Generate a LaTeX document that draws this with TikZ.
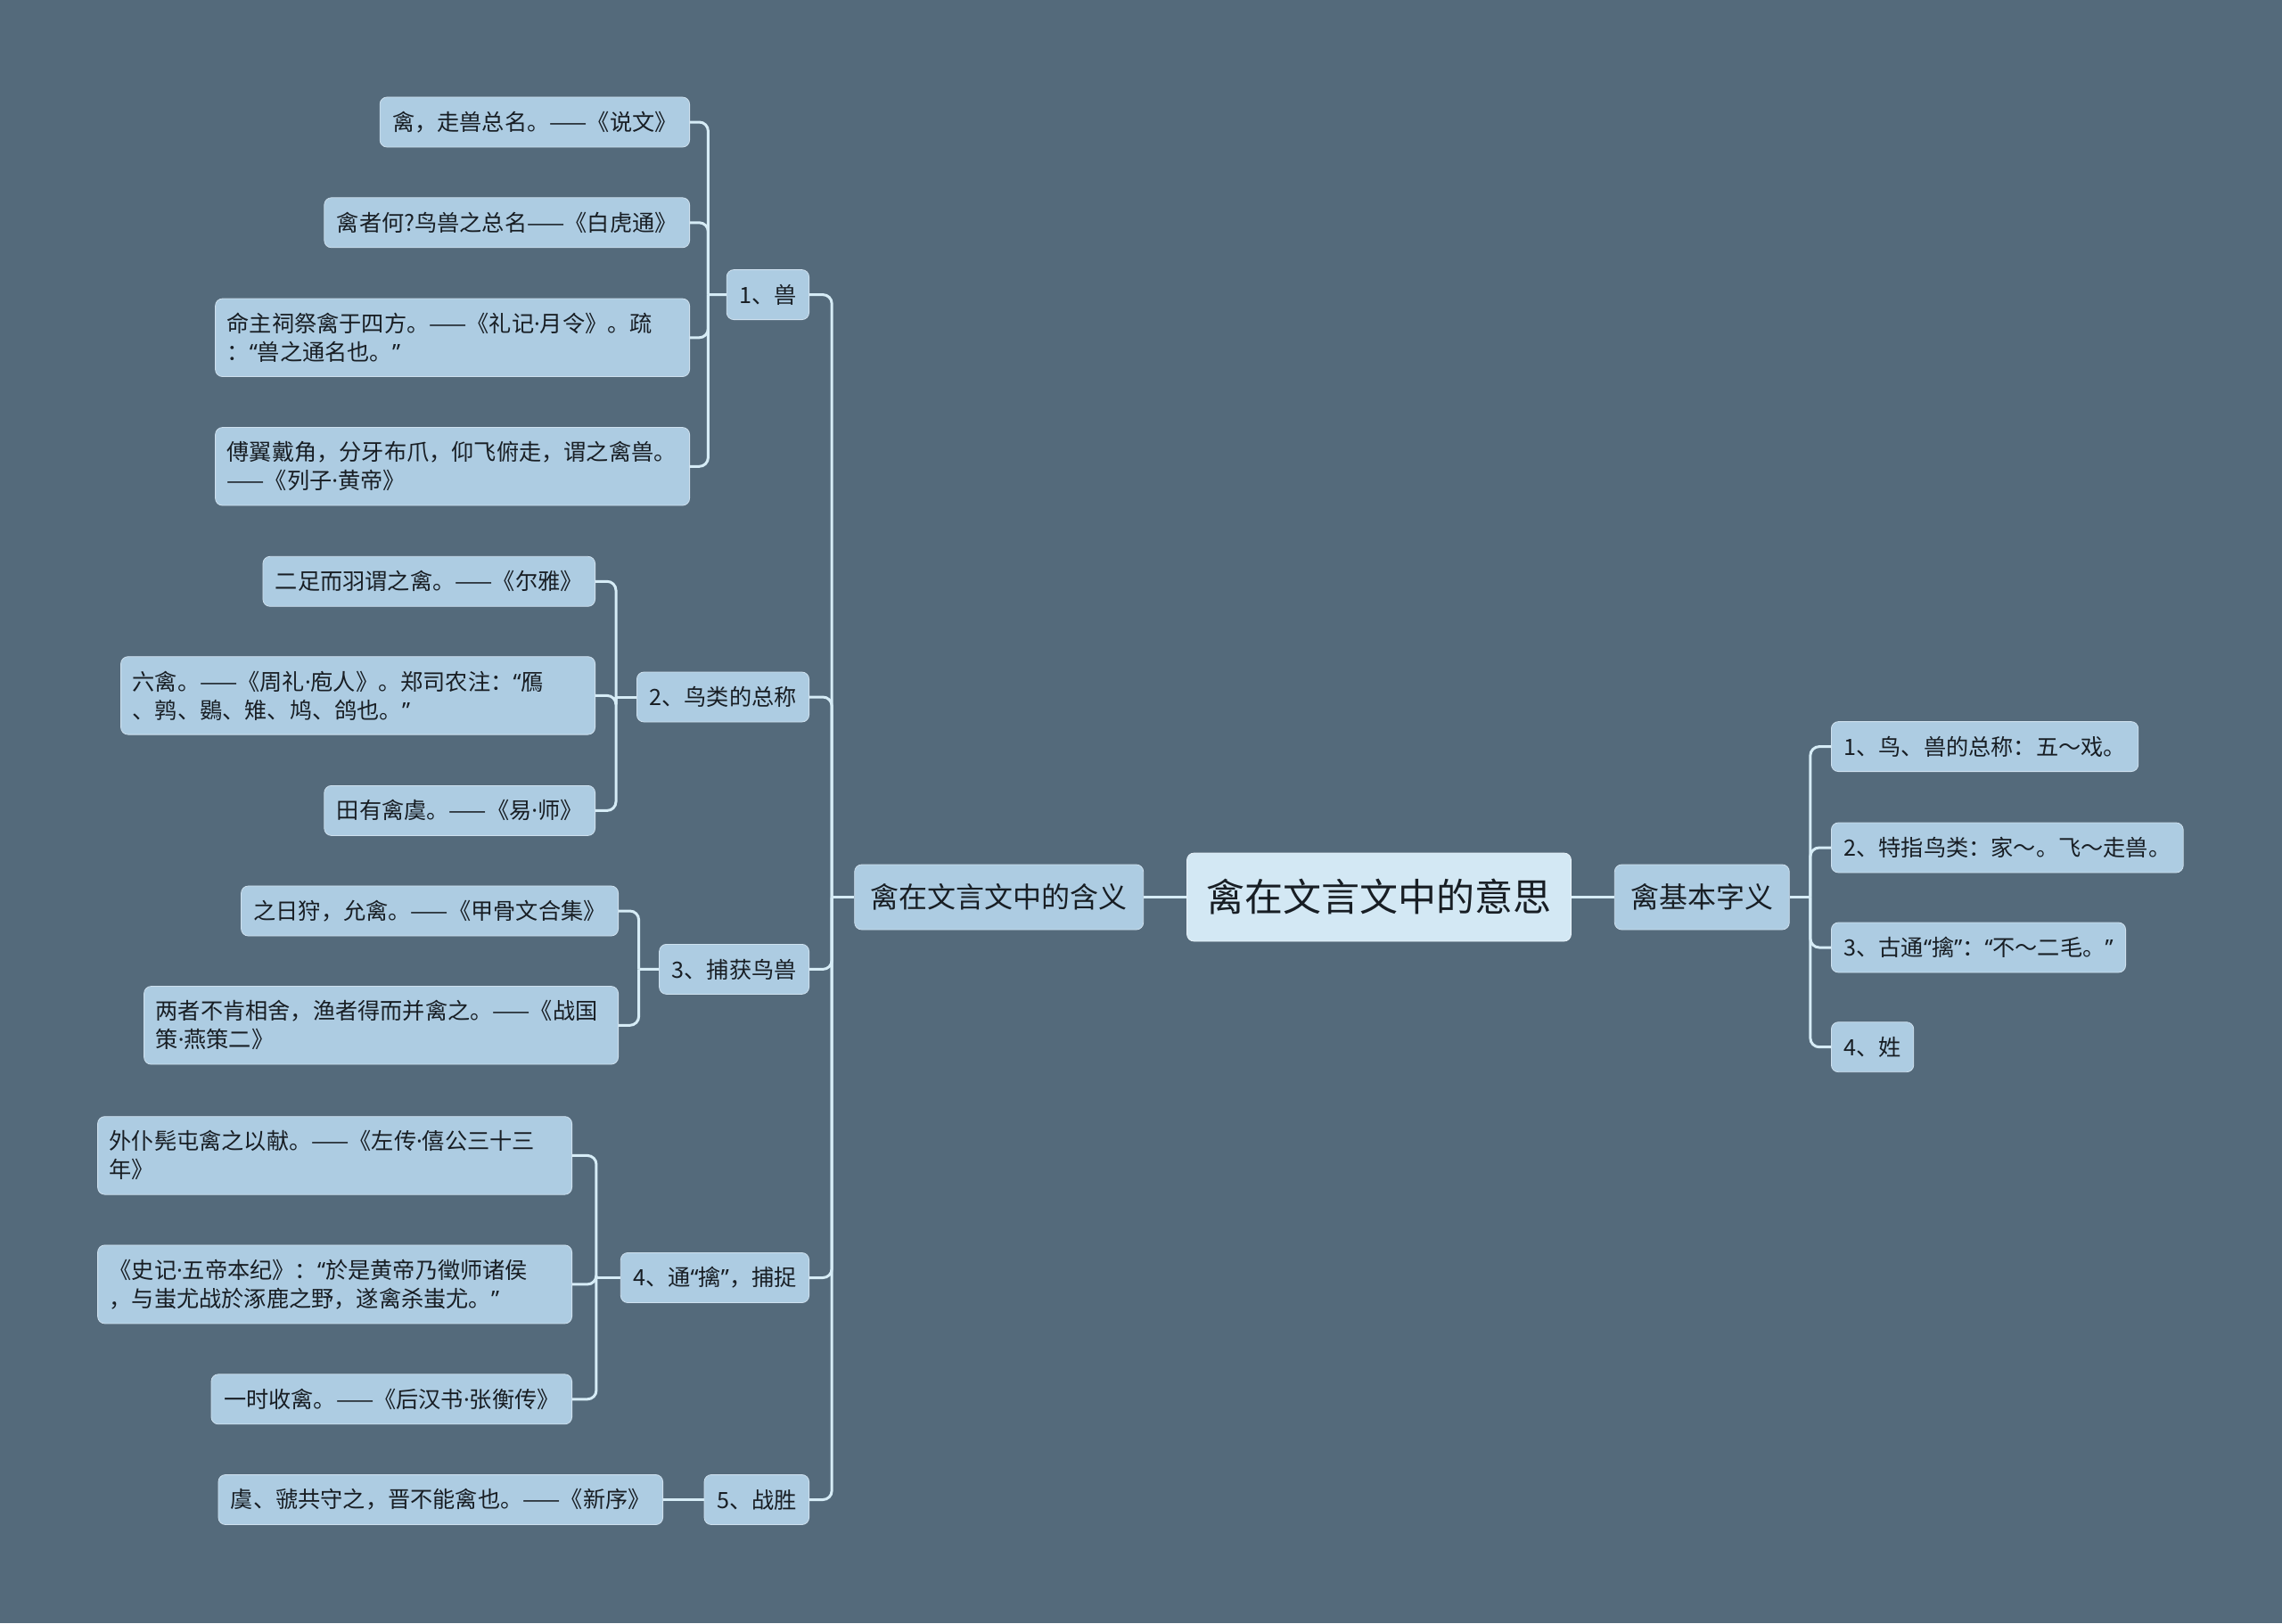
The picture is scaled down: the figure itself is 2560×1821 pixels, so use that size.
\documentclass[tikz,border=0pt]{standalone}
\usepackage{fontspec}
\setmainfont{Noto Sans CJK SC}
\newfontfamily\halffont{Noto Sans}
\newcommand{\zhlq}{{\halffont “}}
\newcommand{\zhrq}{{\halffont ”}}
\newcommand{\zhdot}{{\halffont ·}}
\usepackage{tikz}
\usetikzlibrary{positioning,calc}
\definecolor{bgcolor}{RGB}{84,106,123}
\definecolor{nodecolor}{RGB}{173,204,226}
\definecolor{topiccolor}{RGB}{211,232,244}
\definecolor{linecolor}{RGB}{214,236,246}
\definecolor{inkcolor}{RGB}{24,30,36}

\begin{document}
\begin{tikzpicture}[x=0.5pt,y=-0.5pt,
  box/.style={rounded corners=4pt,fill=nodecolor,draw=nodecolor!60!white,line width=0.4pt,text=inkcolor,inner xsep=7pt,inner ysep=8pt,minimum height=28pt,font=\fontsize{12.6}{16}\selectfont},
  wrap/.style={box,text width=253pt,inner xsep=6.5pt,align=left},
  main/.style={box,inner xsep=9pt,minimum height=36.5pt,font=\fontsize{16}{20}\selectfont},
  topic/.style={box,fill=topiccolor,draw=topiccolor!50!white,inner xsep=11pt,minimum height=49.5pt,font=\fontsize{21.5}{26}\selectfont},
  link/.style={draw=linecolor,line width=1.5pt,rounded corners=5pt}]
\fill[bgcolor] (0,0) rectangle (2560,1821);
% centre and the two main branches
\node[topic] (topic) at (1547,1006.5) {禽在文言文中的意思};
\node[main,left=24pt of topic] (han) {禽在文言文中的含义};
\node[main,right=24pt of topic] (ji) {禽基本字义};
% right side
\node[box,anchor=west] (r1) at (2054,837.6) {1、鸟、兽的总称：五～戏。};
\node[box,anchor=west] (r2) at (2054,951) {2、特指鸟类：家～。飞～走兽。};
\node[box,anchor=west] (r3) at (2054,1063) {3、古通\zhlq 擒\zhrq：\zhlq 不～二毛。\zhrq};
\node[box,anchor=west] (r4) at (2054,1174.7) {4、姓};
% left side
\node[box,anchor=east] (b1) at (908,330.6) {1、兽};
\node[box,anchor=east] (b2) at (908,782) {2、鸟类的总称};
\node[box,anchor=east] (b3) at (908,1087.4) {3、捕获鸟兽};
\node[box,anchor=east] (b4) at (908,1433.5) {4、通\zhlq 擒\zhrq，捕捉};
\node[box,anchor=east] (b5) at (908,1682.5) {5、战胜};
\node[box,anchor=east] (b1a) at (774,137) {禽，走兽总名。——《说文》};
\node[box,anchor=east] (b1b) at (774,249.8) {禽者何?鸟兽之总名——《白虎通》};
\node[wrap,anchor=east] (b1c) at (774,378.8) {命主祠祭禽于四方。——《礼记\zhdot 月令》。疏\\：\zhlq 兽之通名也。\zhrq};
\node[wrap,anchor=east] (b1d) at (774,523.3) {傅翼戴角，分牙布爪，仰飞俯走，谓之禽兽。\\——《列子\zhdot 黄帝》};
\node[box,anchor=east] (b2a) at (668,652.3) {二足而羽谓之禽。——《尔雅》};
\node[wrap,anchor=east] (b2b) at (668,780.4) {六禽。——《周礼\zhdot 庖人》。郑司农注：\zhlq 鴈\\、鹑、鷃、雉、鸠、鸽也。\zhrq};
\node[box,anchor=east] (b2c) at (668,909.4) {田有禽虞。——《易\zhdot 师》};
\node[box,anchor=east] (b3a) at (694,1022) {之日狩，允禽。——《甲骨文合集》};
\node[wrap,anchor=east] (b3b) at (694,1150.3) {两者不肯相舍，渔者得而并禽之。——《战国\\策\zhdot 燕策二》};
\node[wrap,anchor=east] (b4a) at (642,1296.4) {外仆髡屯禽之以献。——《左传\zhdot 僖公三十三\\年》};
\node[wrap,anchor=east] (b4b) at (642,1440.9) {《史记\zhdot 五帝本纪》：\zhlq 於是黄帝乃徵师诸侯\\，与蚩尤战於涿鹿之野，遂禽杀蚩尤。\zhrq};
\node[box,anchor=east] (b4c) at (642,1569.8) {一时收禽。——《后汉书\zhdot 张衡传》};
\node[box,anchor=east] (b5a) at (744,1682.5) {虞、虢共守之，晋不能禽也。——《新序》};
% connectors
\draw[link](topic)--(han); \draw[link](topic)--(ji);
\coordinate (jr) at ($(ji.east)!0.5!(r1.west |- ji.east)$); \draw[link](ji.east)--(jr);
\draw[link](jr)|-(r1.west); \draw[link](jr)|-(r2.west); \draw[link](jr)|-(r3.west); \draw[link](jr)|-(r4.west);
\coordinate (jh) at ($(han.west)!0.5!(b1.east |- han.west)$); \draw[link](han.west)--(jh);
\draw[link](jh)|-(b1.east); \draw[link](jh)|-(b2.east); \draw[link](jh)|-(b3.east); \draw[link](jh)|-(b4.east); \draw[link](jh)|-(b5.east);
\coordinate (j1) at ($(b1.west)!0.5!(b1a.east |- b1.west)$); \draw[link](b1.west)--(j1);
\draw[link](j1)|-(b1a.east); \draw[link](j1)|-(b1b.east); \draw[link](j1)|-(b1c.east); \draw[link](j1)|-(b1d.east);
\coordinate (j2) at ($(b2.west)!0.5!(b2a.east |- b2.west)$); \draw[link](b2.west)--(j2);
\draw[link](j2)|-(b2a.east); \draw[link](j2)|-(b2b.east); \draw[link](j2)|-(b2c.east);
\coordinate (j3) at ($(b3.west)!0.5!(b3a.east |- b3.west)$); \draw[link](b3.west)--(j3);
\draw[link](j3)|-(b3a.east); \draw[link](j3)|-(b3b.east);
\coordinate (j4) at ($(b4.west)!0.5!(b4a.east |- b4.west)$); \draw[link](b4.west)--(j4);
\draw[link](j4)|-(b4a.east); \draw[link](j4)|-(b4b.east); \draw[link](j4)|-(b4c.east);
\draw[link](b5)--(b5a);
\end{tikzpicture}
\end{document}
